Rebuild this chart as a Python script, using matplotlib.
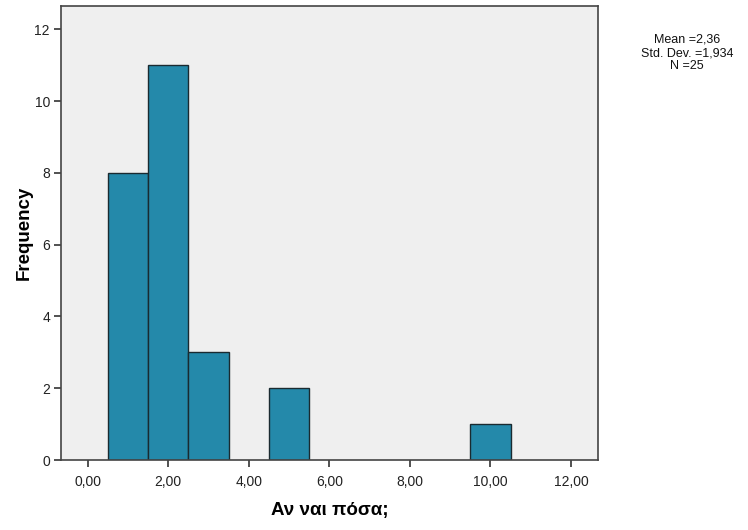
import matplotlib
matplotlib.use("Agg")
import matplotlib.pyplot as plt

# histogram bins (centre) and counts
bin_centers = [1, 2, 3, 5, 10]
counts = [8, 11, 3, 2, 1]
bin_width = 1.0

x_ticks = [0, 2, 4, 6, 8, 10, 12]
x_tick_labels = ["0,00", "2,00", "4,00", "6,00", "8,00", "10,00", "12,00"]
y_ticks = [0, 2, 4, 6, 8, 10, 12]

stats_text = "Mean =2,36\nStd. Dev. =1,934\nN =25"

plt.rcParams['font.family'] = ['Liberation Sans', 'DejaVu Sans']

fig = plt.figure(figsize=(7.48, 5.30), dpi=100)
ax = fig.add_axes([61 / 748, 1 - 460 / 530, (598 - 61) / 748, (460 - 6) / 530])
ax.set_facecolor("#efefef")

ax.bar(bin_centers, counts, width=bin_width, color="#2489aa",
       edgecolor="#1a2a30", linewidth=1.0, zorder=2)

ax.set_xlim(-0.66, 12.67)
ax.set_ylim(0, 12.65)
ax.set_xticks(x_ticks)
ax.set_xticklabels(x_tick_labels)
ax.set_yticks(y_ticks)
ax.tick_params(axis="both", direction="out", length=5, width=1.2,
               color="#333333", labelsize=10, labelcolor="#222222", pad=3)
ax.tick_params(axis="x", pad=6)

for side, sp in ax.spines.items():
    sp.set_color("#444444")
    sp.set_linewidth(1.2)

ax.set_xlabel("Αν ναι πόσα;", fontsize=13.5, fontweight="bold", labelpad=9)
ax.set_ylabel("Frequency", fontsize=13.5, fontweight="bold", labelpad=1)

fig.text(687 / 748, 1 - 53 / 530, stats_text, ha="center", va="center",
         fontsize=9, linespacing=1.15, color="#111111")

fig.savefig("out.png", dpi=100, facecolor="white")
